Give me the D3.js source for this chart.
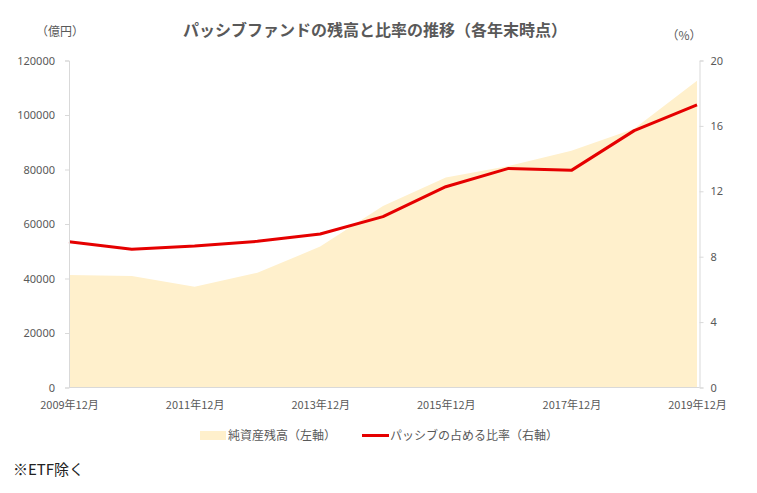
<!DOCTYPE html>
<html><head><meta charset="utf-8">
<script src="https://cdn.jsdelivr.net/npm/d3@7"></script>
<style>
body{margin:0;background:#fff;}
text{font-family:"Noto Sans CJK JP","Noto Sans",sans-serif;}
</style></head>
<body><svg id="c" width="757" height="493"></svg>
<script>
const years = ["2009年12月","2010年12月","2011年12月","2012年12月","2013年12月","2014年12月","2015年12月","2016年12月","2017年12月","2018年12月","2019年12月"];
const netAssets = [41300, 40900, 37000, 42100, 51700, 66600, 77100, 81300, 86900, 95000, 112600];
const passiveShare = [8.92, 8.45, 8.65, 8.94, 9.39, 10.45, 12.28, 13.4, 13.28, 15.71, 17.28];
const leftTicks = [0, 20000, 40000, 60000, 80000, 100000, 120000];
const rightTicks = [0, 4, 8, 12, 16, 20];
const xTickLabels = ["2009年12月","2011年12月","2013年12月","2015年12月","2017年12月","2019年12月"];

const svg = d3.select("#c");
const x0 = 69, x1 = 697, axR = 699.5, yTop = 60.5, yBot = 387.5;
const x = d3.scalePoint().domain(years).range([x0, x1]);
const yL = d3.scaleLinear().domain([0, 120000]).range([yBot, yTop]);
const yR = d3.scaleLinear().domain([0, 20]).range([yBot, yTop]);
const grey = "#595959", axisCol = "#D9D9D9";

// area
svg.append("path")
  .datum(netAssets)
  .attr("fill", "#FFF0CC")
  .attr("d", d3.area().x((d,i)=>x(years[i])).y0(yBot).y1(d=>yL(d)));

// line
svg.append("path")
  .datum(passiveShare)
  .attr("fill", "none")
  .attr("stroke", "#E50000")
  .attr("stroke-width", 3)
  .attr("stroke-linejoin", "round")
  .attr("d", d3.line().x((d,i)=>x(years[i])).y(d=>yR(d)));

// left axis
const la = svg.append("g").attr("transform", `translate(${x0},0)`)
  .call(d3.axisLeft(yL).tickValues(leftTicks).tickSize(4).tickPadding(10).tickFormat(d3.format("d")));
la.select(".domain").attr("stroke", axisCol);
la.selectAll(".tick line").attr("stroke", axisCol);
la.selectAll("text").attr("fill", grey).style("font-size", "11px").style("font-family", "'Noto Sans','DejaVu Sans',sans-serif");

// right axis
const ra = svg.append("g").attr("transform", `translate(${axR},0)`)
  .call(d3.axisRight(yR).tickValues(rightTicks).tickSize(4).tickPadding(7).tickFormat(d3.format("d")));
ra.select(".domain").attr("stroke", axisCol);
ra.selectAll(".tick line").attr("stroke", axisCol);
ra.selectAll("text").attr("fill", grey).style("font-size", "11px").style("font-family", "'Noto Sans','DejaVu Sans',sans-serif");

// bottom axis
const ba = svg.append("g").attr("transform", `translate(0,${yBot})`)
  .call(d3.axisBottom(x).tickValues(xTickLabels).tickSize(0).tickPadding(14));
ba.select(".domain").remove();
svg.append("line").attr("x1", x0).attr("x2", axR).attr("y1", yBot).attr("y2", yBot).attr("stroke", axisCol);
ba.selectAll("text").attr("fill", grey).style("font-size", "11px");

// title
svg.append("text").attr("x", 375).attr("y", 36).attr("text-anchor", "middle")
  .attr("fill", grey).style("font-size", "16px").style("font-weight", "bold")
  .text("パッシブファンドの残高と比率の推移（各年末時点）");
svg.append("text").attr("x", 60).attr("y", 36).attr("text-anchor", "middle")
  .attr("fill", grey).style("font-size", "12px").text("（億円）");
svg.append("text").attr("x", 684).attr("y", 40).attr("text-anchor", "middle")
  .attr("fill", grey).style("font-size", "12px").text("（%）");

// legend
const lg = svg.append("g");
lg.append("rect").attr("x", 200).attr("y", 431).attr("width", 26).attr("height", 9).attr("fill", "#FFF0CC");
lg.append("text").attr("x", 228).attr("y", 440).attr("fill", grey).style("font-size", "12px").text("純資産残高（左軸）");
lg.append("line").attr("x1", 362).attr("x2", 389).attr("y1", 435.5).attr("y2", 435.5).attr("stroke", "#E50000").attr("stroke-width", 3);
lg.append("text").attr("x", 390).attr("y", 440).attr("fill", grey).style("font-size", "12px").text("パッシブの占める比率（右軸）");

// footnote
svg.append("text").attr("x", 13).attr("y", 475).attr("fill", "#222").style("font-size", "15px").text("※ETF除く");
</script>
</body></html>
